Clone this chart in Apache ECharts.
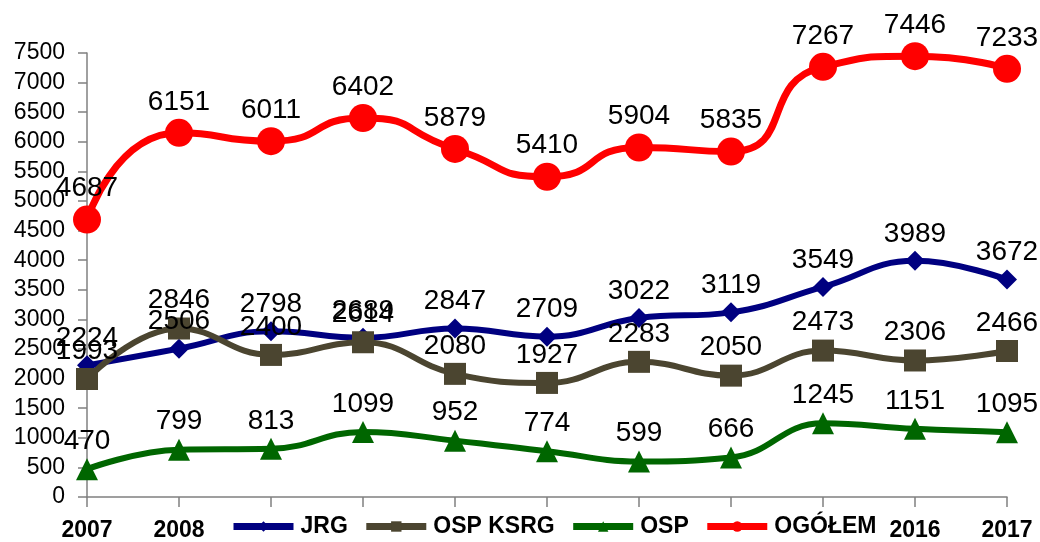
<!DOCTYPE html>
<html>
<head>
<meta charset="utf-8">
<script src="https://cdn.jsdelivr.net/npm/echarts@6/dist/echarts.min.js"></script>
<style>
html, body { margin: 0; padding: 0; background: #fff; }
#main { width: 1040px; height: 542px; }
</style>
</head>
<body>
<div id="main"></div>
<script>
// dane
var years = ['2007', '2008', '2009', '2010', '2011', '2012', '2013', '2014', '2015', '2016', '2017'];
var jrg = [2224, 2506, 2798, 2689, 2847, 2709, 3022, 3119, 3549, 3989, 3672];
var ospKsrg = [1993, 2846, 2400, 2614, 2080, 1927, 2283, 2050, 2473, 2306, 2466];
var osp = [470, 799, 813, 1099, 952, 774, 599, 666, 1245, 1151, 1095];
var ogolem = [4687, 6151, 6011, 6402, 5879, 5410, 5904, 5835, 7267, 7446, 7233];

var myChart = echarts.init(document.getElementById('main'));

var labelStyle = {
	show : true,
	position : 'top',
	distance : 3,
	color : '#000',
	fontFamily : 'Liberation Sans, Arial, sans-serif',
	fontSize : 28
};

function makeSeries(name, data, color, symbol, size, width, smooth) {
	return {
		name : name,
		type : 'line',
		data : data,
		smooth : smooth,
		symbol : symbol,
		symbolSize : size,
		lineStyle : { color : color, width : width },
		itemStyle : { color : color },
		label : labelStyle,
		emphasis : { disabled : true }
	};
}

var option = {
	animation : false,
	backgroundColor : '#fff',
	grid : {
		left : 87,
		right : 33,
		top : 53,
		bottom : 43
	},
	legend : {
		left : 226,
		bottom : 0,
		itemWidth : 60,
		itemHeight : 13,
		itemGap : 15,
		backgroundColor : '#fff',
		padding : [4, 4, 4, 4],
		lineStyle : { width : 7 },
		textStyle : {
			color : '#000',
			fontWeight : 'bold',
			fontSize : 23,
			fontFamily : 'Liberation Sans, Arial, sans-serif',
			padding : [0, 0, 0, 2]
		},
		data : [ 'JRG', 'OSP KSRG', 'OSP', 'OGÓŁEM' ]
	},
	xAxis : {
		type : 'category',
		data : years,
		boundaryGap : false,
		axisLine : { lineStyle : { color : '#808080', width : 1.5 } },
		axisTick : { show : true, length : 10, alignWithLabel : true, lineStyle : { color : '#808080', width : 1.5 } },
		axisLabel : {
			color : '#000',
			fontWeight : 'bold',
			fontSize : 23,
			fontFamily : 'Liberation Sans, Arial, sans-serif',
			margin : 22,
			interval : 0
		},
		splitLine : { show : false }
	},
	yAxis : {
		type : 'value',
		min : 0,
		max : 7500,
		interval : 500,
		axisLine : { show : true, lineStyle : { color : '#808080', width : 1.5 } },
		axisTick : { show : true, length : 9, lineStyle : { color : '#808080', width : 1.5 } },
		axisLabel : {
			color : '#000',
			fontSize : 23,
			fontFamily : 'Liberation Sans, Arial, sans-serif',
			margin : 22,
			formatter : function (v) { return String(v); }
		},
		splitLine : { show : false }
	},
	series : [
		makeSeries('JRG', jrg, '#000080', 'diamond', 20, 6, 0.45),
		makeSeries('OSP KSRG', ospKsrg, '#4b4530', 'rect', 22, 6, 0.45),
		makeSeries('OSP', osp, '#006600', 'triangle', 22, 6, 0.45),
		makeSeries('OGÓŁEM', ogolem, '#ff0000', 'circle', 28, 7, 0.6)
	]
};
myChart.setOption(option);
</script>
</body>
</html>
